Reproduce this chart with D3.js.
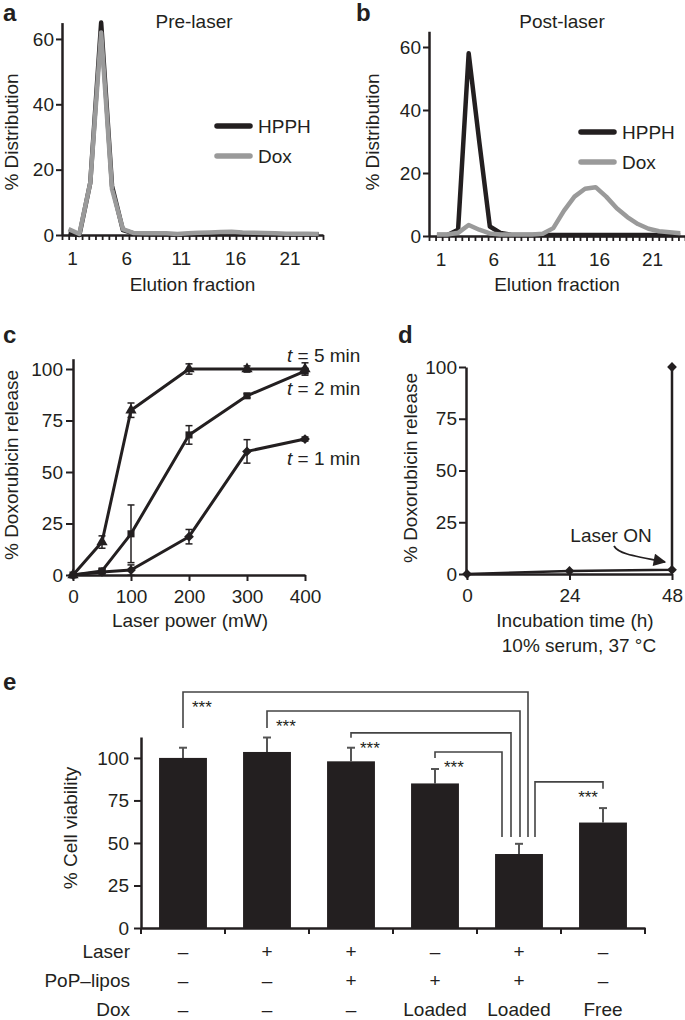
<!DOCTYPE html>
<html><head><meta charset="utf-8">
<script src="https://cdn.jsdelivr.net/npm/d3@7"></script>
<style>
body{margin:0;background:#fff;}
svg text{font-family:"Liberation Sans",Arial,Helvetica,sans-serif;fill:#231f20;}
</style></head><body>
<svg id="chart" width="685" height="1020"></svg>
<script>
// ---------- DATA ----------
const fractions = [1,2,3,4,5,6,7,8,9,10,11,12,13,14,15,16,17,18,19,20,21,22,23,24];
const fractionLabels = [1,6,11,16,21];
const preHPPH  = [0.5,0,16,65,15,1.5,0.5,0.3,0.2,0.2,0.2,0.2,0.2,0.2,0.3,0.3,0.3,0.2,0.2,0.2,0.2,0.2,0.2,0.2];
const preDox   = [1.8,0.3,16,62,14,1.8,0.6,0.5,0.5,0.5,0.3,0.5,0.7,0.8,0.9,1.0,0.8,0.7,0.6,0.5,0.4,0.4,0.4,0.3];
const postHPPH = [0.3,0.3,2,58,30,3,1,0.4,0.3,0.3,0.3,0.3,0.3,0.3,0.3,0.3,0.3,0.3,0.3,0.3,0.3,0.3,0.3,0.3];
const postDox  = [0.5,0.5,1,3.5,2,0.8,0.5,0.5,0.5,0.5,0.7,2.5,8,12.5,15,15.5,12.5,8.8,6,3.8,2.3,1.5,1.2,0.9];
const distTicks = [0,20,40,60];

const laserPower = [0,50,100,200,300,400];
const release5 = [0,16,80,100,100,100];
const err5     = [0,3,3.5,2.5,1.5,3];
const release2 = [0,2,20,68,87,99];
const err2     = [0,1,14,4.5,1,1];
const release1 = [0,1.5,2.4,18.6,60,66];
const err1     = [0,1,2.5,3.5,5.7,1];
const powerTicks = [0,100,200,300,400];
const releaseTicks = [0,25,50,75,100];

const incubationHours = [0,24,48,48];
const serumRelease    = [0,1.5,2,100];
const hourTicks = [0,24,48];

const groups = ['g1','g2','g3','g4','g5','g6'];
const viability = [100,103.5,98,85,43.5,62];
const viabilityErr = [6,8.5,8,8.5,6,8.5];
const viabilityTicks = [0,25,50,75,100];
const laserRow   = ['–','+','+','–','+','–'];
const lipoRow    = ['–','–','+','+','+','–'];
const doxRow     = ['–','–','–','Loaded','Loaded','Free'];
const rowLabels  = ['Laser','PoP–lipos','Dox'];
// significance comparisons: from group index -> to group 5 (index 4)
const sigFrom = [0,1,2,3,5];

// ---------- DRAW ----------
const svg = d3.select('#chart');
const INK = '#231f20', GREY = '#9a9a9a', FS = 19;

function styleAxis(g){
  g.select('.domain').attr('stroke',INK).attr('stroke-width',2.5);
  g.selectAll('.tick line').attr('stroke',INK).attr('stroke-width',2);
  g.selectAll('.tick text').attr('font-size',FS).attr('fill',INK);
}
function txt(x,y,s,opt={}){
  const t = svg.append('text').attr('x',x).attr('y',y).attr('font-size',opt.size||FS)
    .attr('text-anchor',opt.anchor||'start').text(s);
  if(opt.bold) t.attr('font-weight','bold');
  return t;
}
function vlabel(x,y,s){
  svg.append('text').attr('transform',`translate(${x},${y}) rotate(-90)`)
    .attr('text-anchor','middle').attr('font-size',FS).text(s);
}

// ----- Panels a & b -----
function distPanel(cfg){
  const x = d3.scaleLinear().domain(cfg.xd).range(cfg.xr);
  const y = d3.scaleLinear().domain([0,65]).range(cfg.yr);
  const n = 40, step = (cfg.xd[1]-cfg.xd[0])/(n-1);
  const minor = d3.range(n).map(i=>cfg.xd[0]+i*step);
  const gx = svg.append('g').attr('transform',`translate(0,${cfg.yr[0]})`)
    .call(d3.axisBottom(x).tickValues(minor).tickFormat('').tickSize(5).tickSizeOuter(0));
  styleAxis(gx);
  gx.selectAll('.tick line').attr('stroke-width',1.8);
  const gy = svg.append('g').attr('transform',`translate(${cfg.xr[0]},0)`)
    .call(d3.axisLeft(y).tickValues(distTicks).tickSize(6).tickPadding(2).tickSizeOuter(0));
  styleAxis(gy);
  fractionLabels.forEach(v=>txt(x(v)+4, cfg.yr[0]+30, v, {anchor:'middle'}));
  const line = d3.line().x((d,i)=>x(fractions[i])).y(d=>y(d));
  svg.append('path').datum(cfg.black).attr('d',line).attr('fill','none')
    .attr('stroke',INK).attr('stroke-width',4.5).attr('stroke-linejoin','round');
  svg.append('path').datum(cfg.grey).attr('d',line).attr('fill','none')
    .attr('stroke',GREY).attr('stroke-width',4.5).attr('stroke-linejoin','round');
  // legend
  [['HPPH',INK,0],['Dox',GREY,30]].forEach(([lab,col,dy])=>{
    svg.append('line').attr('x1',cfg.leg[0]).attr('x2',cfg.leg[0]+33)
      .attr('y1',cfg.leg[1]+dy).attr('y2',cfg.leg[1]+dy).attr('stroke',col)
      .attr('stroke-width',5.5).attr('stroke-linecap','round');
    txt(cfg.leg[0]+41, cfg.leg[1]+dy+7, lab);
  });
  txt(cfg.title[0], 28, cfg.title[1], {anchor:'middle'});
  txt((cfg.xr[0]+cfg.xr[1])/2, 291, 'Elution fraction', {anchor:'middle'});
  vlabel(cfg.ylab, 132, '% Distribution');
}
distPanel({xd:[0.4,24.4], xr:[62,323], yr:[235,22.6], black:preHPPH, grey:preDox,
  leg:[217,126], title:[194,'Pre-laser'], ylab:18});
distPanel({xd:[0.25,24.45], xr:[429,685], yr:[236,31.25], black:postHPPH, grey:postDox,
  leg:[581,132], title:[562,'Post-laser'], ylab:379});
txt(3,21,'a',{bold:true,size:24});
txt(356,21,'b',{bold:true,size:24});

// ----- Panel c -----
{
  const x = d3.scaleLinear().domain([0,400]).range([73,305]);
  const y = d3.scaleLinear().domain([0,105]).range([575,358.7]);
  const gx = svg.append('g').attr('transform','translate(0,575)')
    .call(d3.axisBottom(x).tickValues(powerTicks).tickSize(6).tickPadding(9).tickSizeOuter(0));
  styleAxis(gx);
  const gy = svg.append('g').attr('transform','translate(73,0)')
    .call(d3.axisLeft(y).tickValues(releaseTicks).tickSize(7).tickPadding(3).tickSizeOuter(0));
  styleAxis(gy);
  const series = [
    {v:release1,e:err1,sym:'diamond'},
    {v:release2,e:err2,sym:'square'},
    {v:release5,e:err5,sym:'triangle'}];
  const line = d3.line().x((d,i)=>x(laserPower[i])).y(d=>y(d));
  series.forEach(s=>{
    svg.append('path').datum(s.v).attr('d',line).attr('fill','none')
      .attr('stroke',INK).attr('stroke-width',3).attr('stroke-linejoin','round');
    s.v.forEach((v,i)=>{
      const e = s.e[i]; if(!e) return;
      const cx = x(laserPower[i]);
      svg.append('line').attr('x1',cx).attr('x2',cx).attr('y1',y(v-e)).attr('y2',y(v+e))
        .attr('stroke',INK).attr('stroke-width',1.5);
      [v-e,v+e].forEach(w=>svg.append('line').attr('x1',cx-3.5).attr('x2',cx+3.5)
        .attr('y1',y(w)).attr('y2',y(w)).attr('stroke',INK).attr('stroke-width',1.5));
    });
    s.v.forEach((v,i)=>{
      const cx = x(laserPower[i]), cy = y(v);
      let sym, rot=0, size;
      if(s.sym==='triangle'){sym=d3.symbolTriangle; size=55;}
      else if(s.sym==='square'){sym=d3.symbolSquare; size=50;}
      else {sym=d3.symbolSquare; size=48; rot=45;}
      svg.append('path').attr('d',d3.symbol(sym,size)())
        .attr('transform',`translate(${cx},${cy}) rotate(${rot})`).attr('fill',INK);
    });
  });
  [['5',362],['2',395],['1',465]].forEach(([m,yy])=>{
    const t = svg.append('text').attr('x',287).attr('y',yy).attr('font-size',FS);
    t.append('tspan').attr('font-style','italic').text('t');
    t.append('tspan').text(` = ${m} min`);
  });
  txt(190,627,'Laser power (mW)',{anchor:'middle'});
  vlabel(18,465,'% Doxorubicin release');
  txt(3,343,'c',{bold:true,size:24});
}

// ----- Panel d -----
{
  const x = d3.scaleLinear().domain([0,48]).range([467,672]);
  const y = d3.scaleLinear().domain([0,100]).range([574,367]);
  const gx = svg.append('g').attr('transform','translate(0,574)')
    .call(d3.axisBottom(x).tickValues(hourTicks).tickSize(6).tickPadding(9).tickSizeOuter(0));
  styleAxis(gx);
  const gy = svg.append('g').attr('transform','translate(466,0)')
    .call(d3.axisLeft(y).tickValues(releaseTicks).tickSize(7).tickPadding(2).tickSizeOuter(0));
  styleAxis(gy);
  const line = d3.line().x((d,i)=>x(incubationHours[i])).y(d=>y(d));
  svg.append('path').datum(serumRelease).attr('d',line).attr('fill','none')
    .attr('stroke',INK).attr('stroke-width',2.5);
  serumRelease.forEach((v,i)=>{
    svg.append('path').attr('d',d3.symbol(d3.symbolSquare,48)())
      .attr('transform',`translate(${x(incubationHours[i])},${y(v)}) rotate(45)`).attr('fill',INK);
  });
  txt(611,542,'Laser ON',{anchor:'middle'});
  svg.append('defs').append('marker').attr('id','ah').attr('viewBox','0 0 10 10')
    .attr('refX',9).attr('refY',5).attr('markerWidth',8).attr('markerHeight',7)
    .attr('markerUnits','strokeWidth').attr('orient','auto')
    .append('path').attr('d','M0,0 L10,5 L0,10 Z').attr('fill',INK);
  svg.append('path').attr('d','M614,546 C618,553 628,555 665,562')
    .attr('fill','none').attr('stroke',INK).attr('stroke-width',1.8).attr('marker-end','url(#ah)');
  txt(575,627,'Incubation time (h)',{anchor:'middle'});
  txt(579,652,'10% serum, 37 °C',{anchor:'middle'});
  vlabel(417,468,'% Doxorubicin release');
  txt(398,343,'d',{bold:true,size:24});
}

// ----- Panel e -----
{
  const x = d3.scaleBand().domain(groups).range([141,645]).paddingInner(0.43).paddingOuter(0.215);
  const y = d3.scaleLinear().domain([0,112.3]).range([928,737]);
  const step = x.step();
  const gx = svg.append('g').attr('transform','translate(0,928)')
    .call(d3.axisBottom(x).tickFormat('').tickSize(0).tickSizeOuter(0));
  styleAxis(gx);
  // tick marks at band edges
  d3.range(groups.length+1).forEach(i=>{
    const xx = 141 + i*step;
    svg.append('line').attr('x1',xx).attr('x2',xx).attr('y1',928).attr('y2',934)
      .attr('stroke',INK).attr('stroke-width',2);
  });
  const gy = svg.append('g').attr('transform','translate(141,0)')
    .call(d3.axisLeft(y).tickValues(viabilityTicks).tickSize(7).tickPadding(5).tickSizeOuter(0));
  styleAxis(gy);
  groups.forEach((g,i)=>{
    const v = viability[i], e = viabilityErr[i], cx = x(g)+x.bandwidth()/2;
    svg.append('line').attr('x1',cx).attr('x2',cx).attr('y1',y(v)).attr('y2',y(v+e))
      .attr('stroke','#555').attr('stroke-width',2);
    svg.append('line').attr('x1',cx-4).attr('x2',cx+4).attr('y1',y(v+e)).attr('y2',y(v+e))
      .attr('stroke','#555').attr('stroke-width',2);
    svg.append('rect').attr('x',x(g)).attr('y',y(v)).attr('width',x.bandwidth())
      .attr('height',y(0)-y(v)).attr('fill',INK);
  });
  // significance brackets (heights in % units)
  const bStart = [117.6,117.6,111.8,100,81.8];
  const bTop   = [138.8,127.6,114.7,103.5,85.9];
  const bOff   = [9,1,-8,-17,16];
  const bBottom = 53.5;
  const c5 = x(groups[4])+x.bandwidth()/2;
  sigFrom.forEach((gi,k)=>{
    const cx = x(groups[gi])+x.bandwidth()/2, rx = c5 + bOff[k];
    svg.append('path').attr('d',`M${cx},${y(bStart[k])}V${y(bTop[k])}H${rx}V${y(bBottom)}`)
      .attr('fill','none').attr('stroke','#444').attr('stroke-width',1.6);
    if(gi<4) txt(cx+9, y(bTop[k])+21, '***', {size:17});
    else txt(cx-5, y(bTop[k])+21, '***', {size:17, anchor:'end'});
  });
  [laserRow,lipoRow,doxRow].forEach((row,r)=>{
    const yy = 958 + r*29;
    txt(130, yy, rowLabels[r], {anchor:'end'});
    row.forEach((s,i)=>txt(x(groups[i])+x.bandwidth()/2, yy, s, {anchor:'middle'}));
  });
  vlabel(77,828,'% Cell viability');
  txt(3,690,'e',{bold:true,size:24});
}
</script>
</body></html>
